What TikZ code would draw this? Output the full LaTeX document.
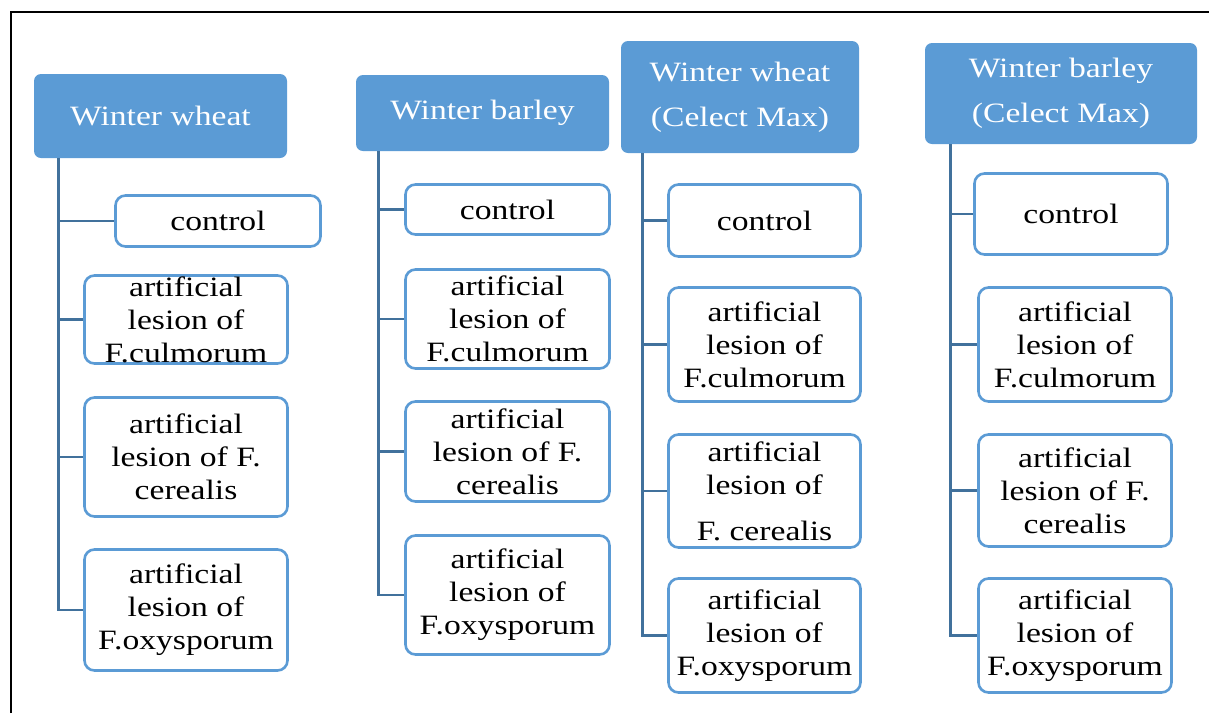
\documentclass[tikz,border=0pt]{standalone}
\usepackage{fontspec}
\setmainfont{Liberation Serif}[FakeStretch=1.2]
\usetikzlibrary{calc}
\definecolor{hdrblue}{HTML}{5B9BD5}
\definecolor{brdblue}{HTML}{5B9BD5}
\definecolor{lnblue}{HTML}{41719C}
\tikzset{
  hdr/.style={fill=hdrblue, draw=none, rounded corners=7pt, text=white, align=center, inner sep=0pt,
    font=\fontsize{28}{45}\selectfont},
  box/.style={draw=brdblue, line width=2.6pt, fill=white, rounded corners=10pt, align=center, inner sep=0pt,
    font=\fontsize{28}{33}\selectfont},
  conn/.style={draw=lnblue, line width=2.8pt},
  frame/.style={draw=black, line width=2.5pt}
}
\begin{document}
\begin{tikzpicture}[x=1pt,y=-1pt]
\useasboundingbox (0,0) rectangle (1209,713);
\draw[frame] (11,713) -- (11,12) -- (1209,12);
% column 1
\node[hdr, minimum width=253pt, minimum height=84pt] (h1) at (160.5,116) {Winter wheat};
\node[box, minimum width=205pt, minimum height=51pt] (c1a) at (218,221) {control};
\node[box, minimum width=203pt, minimum height=88pt] (c1b) at (186,319.5) {artificial\\lesion of\\F.culmorum};
\node[box, minimum width=203pt, minimum height=119pt] (c1c) at (186,457) {artificial\\lesion of F.\\cerealis};
\node[box, minimum width=203pt, minimum height=121pt] (c1d) at (186,610) {artificial\\lesion of\\F.oxysporum};
\coordinate (t1) at ($(h1.south west)+(25,0)$);
\draw[conn] (t1) |- (c1d.west);
\draw[conn] (c1a.west) -- (c1a.west -| t1);
\draw[conn] (c1b.west) -- (c1b.west -| t1);
\draw[conn] (c1c.west) -- (c1c.west -| t1);
% column 2
\node[hdr, minimum width=253pt, minimum height=76pt] (h2) at (482.5,113) {Winter barley};
\node[box, minimum width=204pt, minimum height=50pt] (c2a) at (507.5,209.5) {control};
\node[box, minimum width=204pt, minimum height=99pt] (c2b) at (507.5,319) {artificial\\lesion of\\F.culmorum};
\node[box, minimum width=204pt, minimum height=100pt] (c2c) at (507.5,451.5) {artificial\\lesion of F.\\cerealis};
\node[box, minimum width=204pt, minimum height=119pt] (c2d) at (507.5,595) {artificial\\lesion of\\F.oxysporum};
\coordinate (t2) at ($(h2.south west)+(23,0)$);
\draw[conn] (t2) |- (c2d.west);
\draw[conn] (c2a.west) -- (c2a.west -| t2);
\draw[conn] (c2b.west) -- (c2b.west -| t2);
\draw[conn] (c2c.west) -- (c2c.west -| t2);
% column 3
\node[hdr, minimum width=238pt, minimum height=112pt] (h3) at (740,97) {Winter wheat\\(Celect Max)};
\node[box, minimum width=192pt, minimum height=72pt] (c3a) at (764.5,220.5) {control};
\node[box, minimum width=192pt, minimum height=114pt] (c3b) at (764.5,344.5) {artificial\\lesion of\\F.culmorum};
\node[box, minimum width=192pt, minimum height=113pt] (c3c) at (764.5,491) {artificial\\lesion of\\[13pt]F. cerealis};
\node[box, minimum width=192pt, minimum height=114pt] (c3d) at (764.5,635.5) {artificial\\lesion of\\F.oxysporum};
\coordinate (t3) at ($(h3.south west)+(22,0)$);
\draw[conn] (t3) |- (c3d.west);
\draw[conn] (c3a.west) -- (c3a.west -| t3);
\draw[conn] (c3b.west) -- (c3b.west -| t3);
\draw[conn] (c3c.west) -- (c3c.west -| t3);
% column 4
\node[hdr, minimum width=272pt, minimum height=101pt] (h4) at (1061,93.5) {Winter barley\\(Celect Max)};
\node[box, minimum width=193pt, minimum height=81pt] (c4a) at (1071,214) {control};
\node[box, minimum width=193pt, minimum height=114pt] (c4b) at (1075,344.5) {artificial\\lesion of\\F.culmorum};
\node[box, minimum width=193pt, minimum height=112pt] (c4c) at (1075,490.5) {artificial\\lesion of F.\\cerealis};
\node[box, minimum width=193pt, minimum height=114pt] (c4d) at (1075,635.5) {artificial\\lesion of\\F.oxysporum};
\coordinate (t4) at ($(h4.south west)+(26,0)$);
\draw[conn] (t4) |- (c4d.west);
\draw[conn] (c4a.west) -- (c4a.west -| t4);
\draw[conn] (c4b.west) -- (c4b.west -| t4);
\draw[conn] (c4c.west) -- (c4c.west -| t4);
\end{tikzpicture}
\end{document}
